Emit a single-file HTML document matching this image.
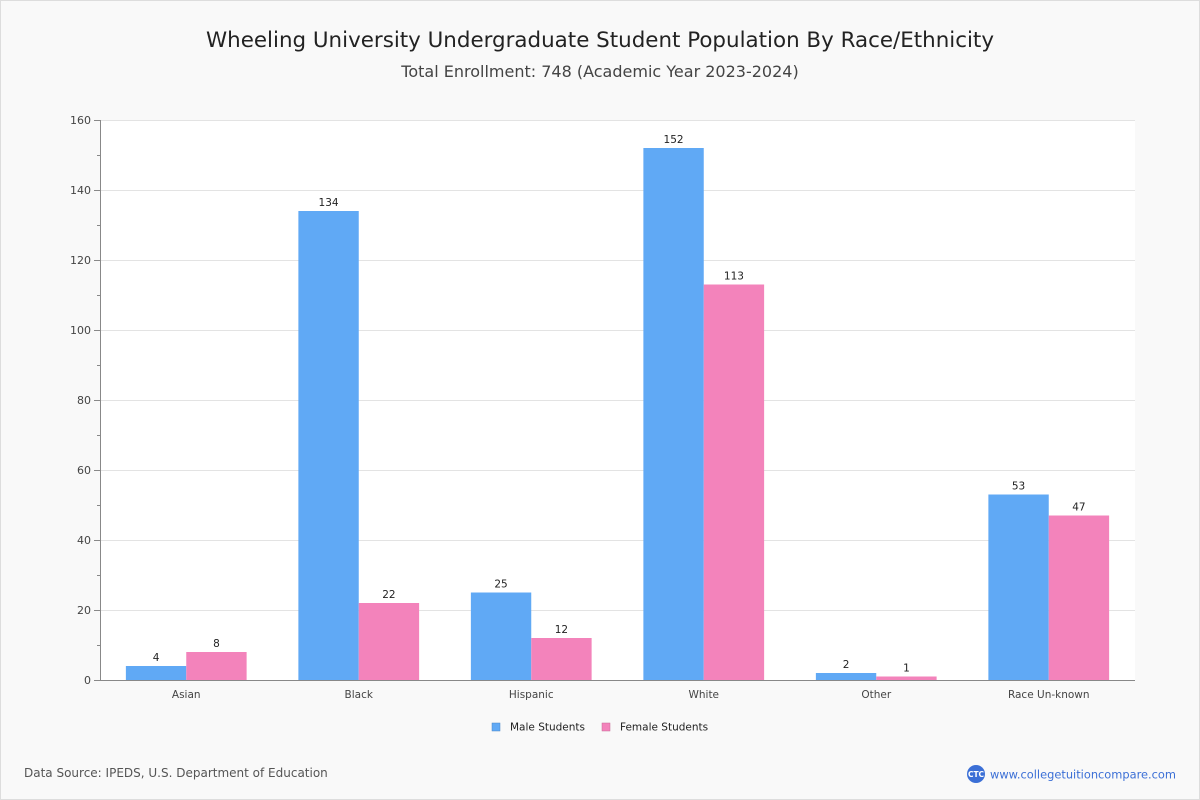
<!DOCTYPE html>
<html><head><meta charset="utf-8"><style>
body{margin:0;background:#fff;}
#wrap{width:1198px;height:798px;border:1px solid #ddd;background:#f9f9f9;position:relative;font-family:"DejaVu Sans","Liberation Sans",sans-serif;}
</style></head><body>
<div id="wrap">
<svg id="chart" width="1198" height="798" style="position:absolute;left:0;top:0;font-family:'DejaVu Sans','Liberation Sans',sans-serif">
<text x="599" y="46" text-anchor="middle" font-size="21" fill="#222" textLength="788" lengthAdjust="spacingAndGlyphs">Wheeling University Undergraduate Student Population By Race/Ethnicity</text>
<text x="599" y="76" text-anchor="middle" font-size="16" fill="#444">Total Enrollment: 748 (Academic Year 2023-2024)</text>
<rect x="99" y="119" width="1035" height="560" fill="#fff"/>
<g id="grid"></g><g id="bars"></g><g id="axes"></g>
<g>
<rect x="491" y="722" width="8" height="8" fill="#60a9f5" stroke="#4a86c5" stroke-width="0.5"/>
<text x="509" y="729.5" font-size="10.5" fill="#222">Male Students</text>
<rect x="601" y="722" width="8" height="8" fill="#f383bb" stroke="#c76a98" stroke-width="0.5"/>
<text x="619" y="729.5" font-size="10.5" fill="#222">Female Students</text>
</g>
<text x="23" y="776" font-size="12" fill="#555">Data Source: IPEDS, U.S. Department of Education</text>
<g>
<circle cx="975" cy="773" r="9" fill="#3b6fd6"/>
<text x="975" y="776" text-anchor="middle" font-size="7.5" font-weight="bold" fill="#fff">CTC</text>
<text x="989" y="777.5" font-size="11.5" fill="#3b6fd6" textLength="186" lengthAdjust="spacingAndGlyphs">www.collegetuitioncompare.com</text>
</g>
</svg>
</div>
<script>
const categories=["Asian","Black","Hispanic","White","Other","Race Un-known"];
const maleValues=[4,134,25,152,2,53];
const femaleValues=[8,22,12,113,1,47];
const yTicks=[0,20,40,60,80,100,120,140,160];
const NS="http://www.w3.org/2000/svg";
const L=99,R=1134,T=119,B=679,yMax=160;
const y=v=>B-(v/yMax)*(B-T);
const band=(R-L)/categories.length;
const bw=band*0.35;
function mk(tag,attrs,parent,txt){const e=document.createElementNS(NS,tag);for(const k in attrs)e.setAttribute(k,attrs[k]);if(txt!=null)e.textContent=txt;parent.appendChild(e);return e;}
const grid=document.getElementById('grid'),bars=document.getElementById('bars'),axes=document.getElementById('axes');
yTicks.forEach(t=>{
 if(t>0){const g=mk('line',{x1:L,x2:R,y1:y(t)+0.5,y2:y(t)+0.5,stroke:'#e3e3e3'},grid);
 
 }
 const tk=mk('line',{x1:L-6,x2:L,y1:y(t)+0.5,y2:y(t)+0.5,stroke:'#888'},axes);
 
 
 const lb=mk('text',{x:L-9,y:y(t)+4,'text-anchor':'end','font-size':11,fill:'#444'},axes,t);
 
 
});
for(let v=10;v<yMax;v+=20){const m=mk('line',{x1:L-3,x2:L,y1:y(v)+0.5,y2:y(v)+0.5,stroke:'#888'},axes);
 
 }
const ya=mk('line',{x1:L+0.5,x2:L+0.5,y1:T,y2:B,stroke:'#888'},axes);


const xa=mk('line',{x1:L,x2:R,y1:B+0.5,y2:B+0.5,stroke:'#888'},axes);


categories.forEach((c,i)=>{
 const cx=L+band*(i+0.5);
 [[maleValues[i],cx-bw,'#60a9f5','male'],[femaleValues[i],cx,'#f383bb','female']].forEach(([v,x0,col,s])=>{
  const r=mk('rect',{x:x0,y:y(v),width:bw,height:B-y(v),fill:col},bars);
  
  
  const t=mk('text',{x:x0+bw/2,y:y(v)-5,'text-anchor':'middle','font-size':10.5,fill:'#222'},bars,v);
  
  
 });
 const xl=mk('text',{x:cx,y:B+18,'text-anchor':'middle','font-size':10.5,fill:'#444'},axes,c);
 
 
});
</script>
</body></html>
